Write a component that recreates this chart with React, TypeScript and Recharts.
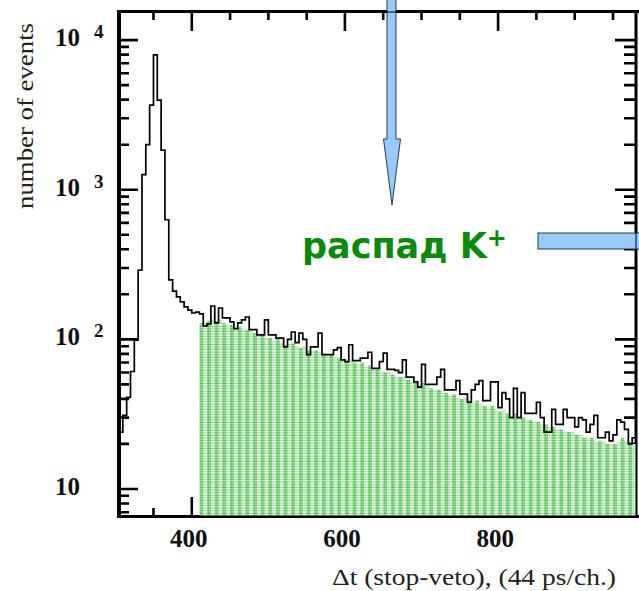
import { ComposedChart, Area, Line, XAxis, YAxis } from "recharts";

// counts per 5-channel bin, first bin starts at channel 305
const BIN_START = 305;
const BIN_WIDTH = 5;

const totalCounts = [
  24, 31, 41, 61, 99, 290, 1260, 2000, 3680, 7950,
  3970, 1840, 630, 250, 210, 192, 178, 165, 157, 150,
  152, 148, 123, 127, 167, 129, 162, 139, 139, 131,
  118, 129, 135, 141, 116, 116, 107, 107, 135, 107,
  107, 102, 102, 89, 100, 112, 95, 110, 100, 79,
  89, 89, 110, 79, 79, 79, 85, 88, 73, 71,
  92, 72, 72, 75, 75, 82, 64, 64, 71, 81,
  63, 63, 62, 60, 73, 56, 56, 52, 48, 68,
  50, 50, 50, 56, 63, 46, 46, 46, 53, 43,
  43, 38, 46, 50, 53, 39, 39, 52, 52, 35,
  44, 40, 30, 47, 30, 44, 32, 32, 32, 38,
  30, 24, 24, 34, 27, 27, 34, 30, 30, 26,
  30, 29, 24, 27, 31, 22, 22, 24, 21, 23,
  29, 28, 25, 20, 22,
];

// K+ decay part (green), starts at channel 410
const DECAY_FROM = 410;
const decayCounts = [
  128, 130, 133, 138, 132, 136, 128, 125, 126, 120,
  122, 118, 116, 114, 110, 106, 108, 104, 102, 98,
  100, 96, 92, 93, 94, 90, 88, 90, 84, 84,
  85, 82, 80, 78, 80, 76, 75, 74, 71, 73,
  70, 69, 70, 66, 67, 63, 63, 62, 60, 61,
  58, 57, 56, 56, 54, 52, 51, 50, 51, 49,
  47, 46, 46, 45, 44, 42, 43, 41, 40, 41,
  39, 38, 39, 37, 36, 35, 36, 34, 33, 34,
  32, 31, 32, 30, 30, 29, 29, 28, 28, 27,
  27, 26, 26, 25, 25, 24, 24, 24, 23, 23,
  22, 22, 22, 21, 21, 21, 20, 20, 20, 21,
  22, 21, 20, 20,
];

const xTicks = [350, 400, 450, 500, 550, 600, 650, 700, 750, 800, 850, 900, 950];
const xLabels = [400, 600, 800];
const yTicks = [
  7, 8, 9, 10, 20, 30, 40, 50, 60, 70, 80, 90, 100, 200, 300, 400, 500, 600,
  700, 800, 900, 1000, 2000, 3000, 4000, 5000, 6000, 7000, 8000, 9000, 10000,
];
const yLabels = [10, 100, 1000, 10000];

const X_DOMAIN = [305, 980];
const Y_DOMAIN = [6.6, 15400];

const decayStartIdx = (DECAY_FROM - BIN_START) / BIN_WIDTH;
const rows = totalCounts.map((v, i) => ({
  x: BIN_START + i * BIN_WIDTH,
  total: v,
  decay: i >= decayStartIdx ? decayCounts[i - decayStartIdx] : null,
}));
rows.push({
  x: BIN_START + totalCounts.length * BIN_WIDTH,
  total: totalCounts[totalCounts.length - 1],
  decay: decayCounts[decayCounts.length - 1],
});

const serif = "'Liberation Serif', 'Times New Roman', serif";

// plot box, follows from chart size, axis widths/heights and margins below
const PLOT = { left: 119, right: 636, top: 12, bottom: 516 };
const px = (v: number) =>
  PLOT.left + ((v - X_DOMAIN[0]) / (X_DOMAIN[1] - X_DOMAIN[0])) * (PLOT.right - PLOT.left);
const py = (v: number) =>
  PLOT.top +
  ((Math.log10(Y_DOMAIN[1]) - Math.log10(v)) /
    (Math.log10(Y_DOMAIN[1]) - Math.log10(Y_DOMAIN[0]))) *
    (PLOT.bottom - PLOT.top);

// all inward tick marks as one path
const tickPath =
  xTicks
    .map((v) => {
      const len = xLabels.includes(v) ? 19 : 8;
      const x = px(v).toFixed(1);
      return `M${x},${PLOT.bottom}V${PLOT.bottom - len}M${x},${PLOT.top}V${PLOT.top + len}`;
    })
    .join("") +
  yTicks
    .map((v) => {
      const major = yLabels.includes(v);
      const y = py(v).toFixed(1);
      return `M${PLOT.left},${y}H${PLOT.left + (major ? 19 : 10)}M${PLOT.right},${y}H${PLOT.right - (major ? 21 : 12)}`;
    })
    .join("");

const BottomTick = (props: any) => {
  const x = Number(props.x);
  const y = Number(props.y);
  const v = props.payload.value;
  if (!xLabels.includes(v)) return <g />;
  return (
    <text x={x - 3} y={y + 31} textAnchor="middle" fontFamily={serif} fontWeight="bold" fontSize={25} fill="#111">
      {v}
    </text>
  );
};

const LeftTick = (props: any) => {
  const x = Number(props.x);
  const y = Number(props.y);
  const v = props.payload.value;
  if (!yLabels.includes(v)) return <g />;
  const exp = Math.round(Math.log10(v));
  return (
    <g>
      <text x={x - 64} y={y + 6} fontFamily={serif} fontWeight="bold" fontSize={25} fill="#111">
        10
      </text>
      {exp > 1 && (
        <text x={x - 25} y={y - 2} fontFamily={serif} fontWeight="bold" fontSize={19} fill="#111">
          {exp}
        </text>
      )}
    </g>
  );
};

const App = () => {
  return (
    <div style={{ position: "absolute", left: 0, top: 0, width: 639, height: 591, background: "#fff" }}>
      <ComposedChart width={639} height={591} data={rows} margin={{ top: 0, right: 0, bottom: 0, left: 0 }}>
        <defs>
          <pattern id="decayDots" patternUnits="userSpaceOnUse" x={199.4} y={0} width={7.66} height={2.6}>
            <rect x={0} y={0} width={3.83} height={2.6} fill="#b2e4b2" />
            <rect x={3.83} y={0} width={3.83} height={2.6} fill="#e6f7e6" />
            <rect x={0.5} y={0.5} width={1.3} height={1.3} fill="#1a9e1a" />
            <rect x={2.4} y={0.5} width={1.3} height={1.3} fill="#2eb32e" />
            <rect x={4.4} y={0.5} width={1.2} height={1.2} fill="#74d074" />
            <rect x={6.2} y={0.5} width={1.2} height={1.2} fill="#8ad88a" />
          </pattern>
        </defs>
        <Area
          xAxisId="bottom"
          yAxisId="left"
          type="stepAfter"
          dataKey="decay"
          fill="url(#decayDots)"
          fillOpacity={1}
          stroke="none"
          isAnimationActive={false}
        />
        <Line
          xAxisId="bottom"
          yAxisId="left"
          type="stepAfter"
          dataKey="total"
          stroke="#000"
          strokeWidth={1.7}
          dot={false}
          isAnimationActive={false}
        />
        <Line
          xAxisId="top"
          yAxisId="right"
          dataKey="total"
          stroke="none"
          dot={false}
          isAnimationActive={false}
        />
        <XAxis
          xAxisId="bottom"
          dataKey="x"
          type="number"
          domain={X_DOMAIN}
          allowDataOverflow
          ticks={xTicks}
          interval={0}
          tick={<BottomTick />}
          tickSize={0}
          tickMargin={0}
          stroke="#000"
          height={75}
        />
        <XAxis
          xAxisId="top"
          orientation="top"
          dataKey="x"
          type="number"
          domain={X_DOMAIN}
          allowDataOverflow
          ticks={xTicks}
          interval={0}
          tick={false}
          tickSize={0}
          stroke="#000"
          height={12}
        />
        <YAxis
          yAxisId="left"
          type="number"
          scale="log"
          domain={Y_DOMAIN}
          allowDataOverflow
          ticks={yTicks}
          interval={0}
          tick={<LeftTick />}
          tickSize={0}
          tickMargin={0}
          stroke="#000"
          width={119}
        />
        <YAxis
          yAxisId="right"
          orientation="right"
          type="number"
          scale="log"
          domain={Y_DOMAIN}
          allowDataOverflow
          ticks={yTicks}
          interval={0}
          tick={false}
          tickSize={0}
          stroke="#000"
          width={3}
        />

        <path d={tickPath} fill="none" stroke="#000" strokeWidth={2.6} />

        {/* frame */}
        <rect x={117} y={10} width={4} height={508} fill="#000" />
        <rect x={117} y={10} width={522} height={3} fill="#000" />
        <rect x={117} y={515} width={522} height={3} fill="#000" />
        <rect x={634.5} y={10} width={3} height={508} fill="#000" />

        <text
          transform="translate(33,116) rotate(-90)"
          textAnchor="middle"
          fontFamily={serif}
          fontSize={23}
          textLength={186}
          lengthAdjust="spacingAndGlyphs"
          fill="#222"
        >
          number of events
        </text>
        <text
          x={332}
          y={585}
          fontFamily={serif}
          fontSize={23}
          textLength={284}
          lengthAdjust="spacingAndGlyphs"
          fill="#222"
        >
          Δt (stop-veto), (44 ps/ch.)
        </text>

        {/* annotation arrows */}
        <path
          d="M387,-2 L396,-2 L396,139 L400.5,139 L392,205 L383.5,139 L387,139 Z"
          fill="#99c9f7"
          stroke="#2a3a4a"
          strokeWidth={1}
        />
        <rect x={538} y={233} width={110} height={16} fill="#99c9f7" stroke="#2a3a4a" strokeWidth={1} />

        <text x={302} y={258} fontFamily="'DejaVu Sans', sans-serif" fontWeight="bold" fontSize={35} fill="#0a8a0a">
          распад K
          <tspan dy={-12} fontSize={24}>
            +
          </tspan>
        </text>
      </ComposedChart>
    </div>
  );
};

export default App;
